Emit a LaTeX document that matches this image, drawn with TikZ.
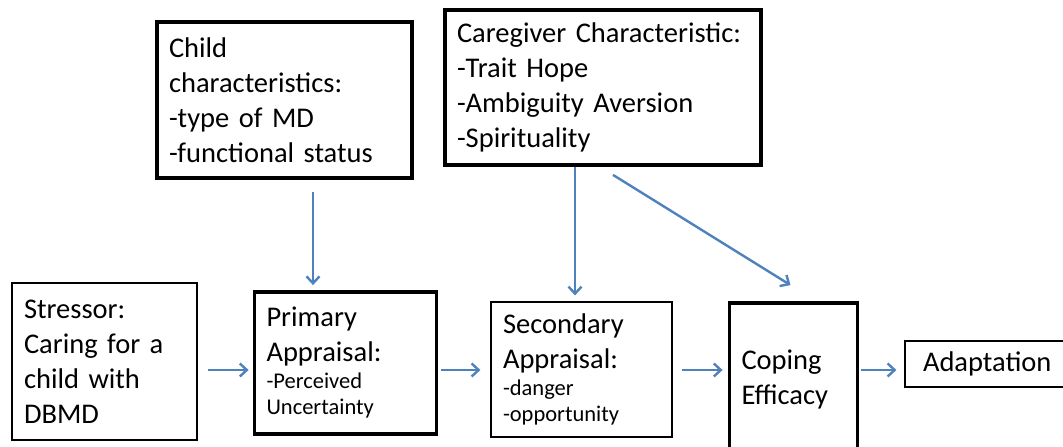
\documentclass[tikz,border=0pt]{standalone}
\usepackage{fontspec}
\setmainfont{Carlito}
\usepackage{xcolor}
\usepackage{tikz}
\usetikzlibrary{arrows.meta,positioning}
\definecolor{flowblue}{RGB}{79,129,189}
\newcommand{\bigtxt}{\fontsize{28.5}{35}\selectfont}
\newcommand{\smalltxt}{\fontsize{22.5}{26.5}\selectfont}

\begin{document}
\begin{tikzpicture}[x=1pt,y=1pt,
    box/.style={draw,line width=1.2pt,align=left,inner xsep=12pt,inner ysep=0pt,font=\bigtxt},
    heavy/.style={box,line width=3.8pt},
    flow/.style={flowblue,line width=2.4pt,-{Straight Barb[length=7pt,width=13pt]}}]
    \useasboundingbox (0,0) rectangle (1063,447);
    % bottom row
    \node[box,minimum height=157pt,text width=161pt] (stressor) at (104.5,85.5) {Stressor:\\Caring for a\\child with\\DBMD};
    \node[heavy,minimum height=142pt,text width=158pt,right=55pt of stressor,yshift=-1.5pt] (primary) {Primary\\Appraisal:\par{\smalltxt -Perceived\\Uncertainty\par}};
    \node[box,minimum height=135pt,text width=157pt,right=52pt of primary,yshift=-6.5pt] (secondary) {Secondary\\Appraisal:\par{\smalltxt -danger\\-opportunity\par}};
    \node[heavy,minimum height=152pt,text width=104pt,right=55pt of secondary,yshift=-9.5pt] (coping) {Coping\\Efficacy};
    \node[box,minimum height=46pt,inner xsep=18pt,text width=130pt,right=45pt of coping,yshift=15pt] (adapt) {Adaptation};
    % top row
    \node[heavy,minimum height=156pt,text width=231pt] (child) at (284.5,347) {Child\\characteristics:\\-type of MD\\-functional status};
    \node[heavy,minimum height=155pt,text width=292pt] (care) at (603,359.5) {Caregiver Characteristic:\\-Trait Hope\\-Ambiguity Aversion\\-Spirituality};
    \coordinate (row) at (0,77);
    \coordinate (colA) at (313,0);
    \coordinate (colB) at (575,0);
    \draw[flow,shorten <=10pt,shorten >=4pt] (stressor.east |- row) -- (primary.west |- row);
    \draw[flow,shorten <=3pt,shorten >=10pt] (primary.east |- row) -- (secondary.west |- row);
    \draw[flow,shorten <=9pt,shorten >=5pt] (secondary.east |- row) -- (coping.west |- row);
    \draw[flow,shorten <=2pt,shorten >=8pt] (coping.east |- row) -- (adapt.west |- row);
    \draw[flow,shorten <=12pt,shorten >=5pt] (child.south -| colA) -- (primary.north -| colA);
    \draw[flow,shorten >=6pt] (care.south -| colB) -- (secondary.north -| colB);
    \draw[flow] ([xshift=10pt,yshift=-8pt]care.south) -- ([xshift=-3pt,yshift=16pt]coping.north);
\end{tikzpicture}
\end{document}
